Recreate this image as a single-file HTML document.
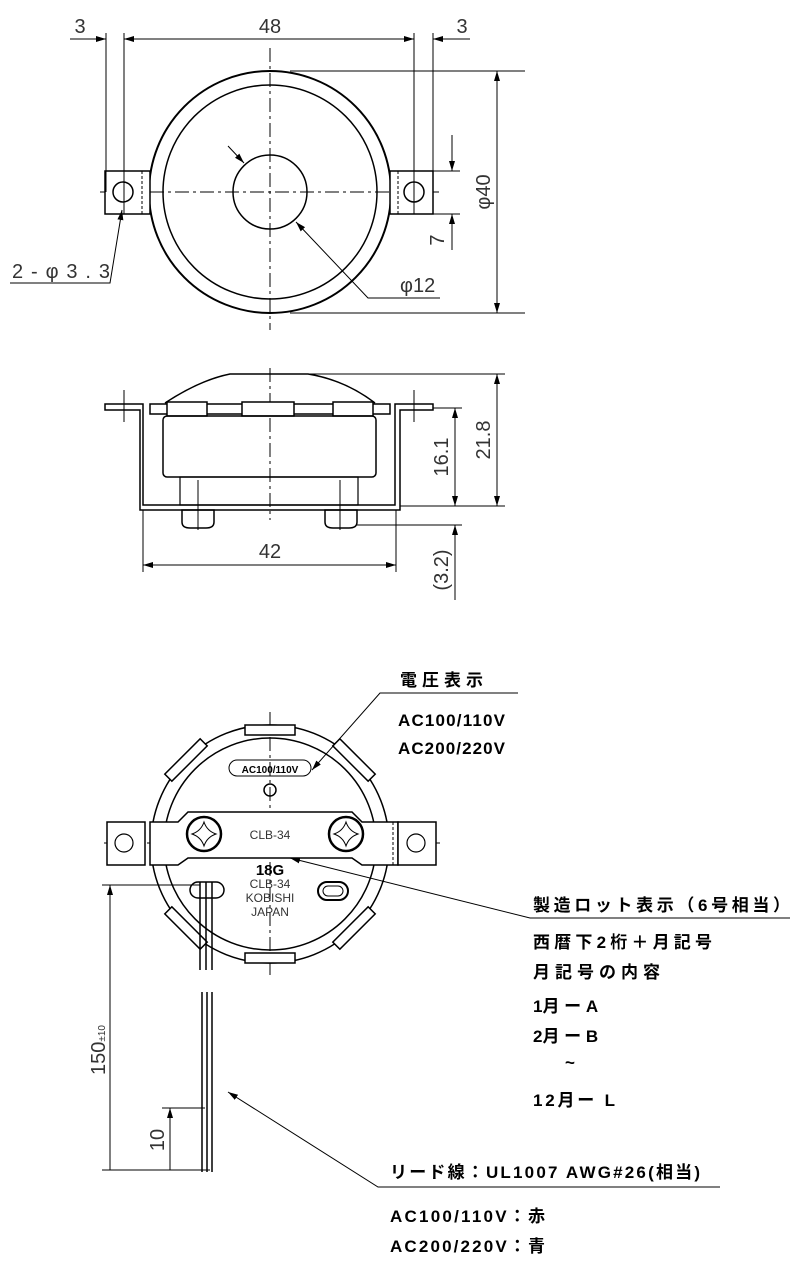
<!DOCTYPE html>
<html><head><meta charset="utf-8"><style>
html,body{margin:0;padding:0;background:#fff}
svg{display:block}
.t{font-family:"Liberation Sans",sans-serif;fill:#333}
.j{font-family:"Liberation Sans","Noto Sans CJK JP",sans-serif;font-weight:bold;fill:#000;font-size:17px}
</style></head><body>
<svg width="798" height="1276" viewBox="0 0 798 1276" xmlns="http://www.w3.org/2000/svg">
<defs>
<marker id="a" viewBox="0 0 10 6" refX="10" refY="3" markerWidth="10" markerHeight="6" orient="auto-start-reverse" markerUnits="userSpaceOnUse"><path d="M0,0L10,3L0,6z" fill="#000"/></marker>
</defs>
<g fill="none" stroke="#000" stroke-width="1">
<line x1="270" y1="48" x2="270" y2="330" stroke-dasharray="14,4,3,4"/>
<line x1="100" y1="192" x2="440" y2="192" stroke-dasharray="14,4,3,4"/>
<circle cx="270" cy="192" r="121" stroke-width="2"/>
<circle cx="270" cy="192" r="107" stroke-width="1.5"/>
<circle cx="270" cy="192" r="37" stroke-width="1.5"/>
<rect x="105" y="171" width="45" height="43" stroke-width="1.5" fill="#fff"/>
<line x1="142" y1="171" x2="142" y2="214" stroke-dasharray="3,2"/>
<circle cx="123" cy="192" r="10" stroke-width="1.5"/>
<rect x="390" y="171" width="43" height="43" stroke-width="1.5" fill="#fff"/>
<line x1="398" y1="171" x2="398" y2="214" stroke-dasharray="3,2"/>
<circle cx="414" cy="192" r="10" stroke-width="1.5"/>
<line x1="106" y1="33" x2="106" y2="192"/><line x1="124" y1="33" x2="124" y2="214"/>
<line x1="414" y1="33" x2="414" y2="214"/><line x1="433" y1="33" x2="433" y2="192"/>
<line x1="124" y1="39" x2="414" y2="39" marker-start="url(#a)" marker-end="url(#a)"/>
<line x1="70" y1="39" x2="106" y2="39" marker-end="url(#a)"/>
<line x1="470" y1="39" x2="433" y2="39" marker-end="url(#a)"/>
<line x1="290" y1="71" x2="525" y2="71"/><line x1="290" y1="313" x2="525" y2="313"/>
<line x1="497" y1="71" x2="497" y2="313" marker-start="url(#a)" marker-end="url(#a)"/>
<line x1="433" y1="171" x2="460" y2="171"/><line x1="433" y1="214" x2="460" y2="214"/>
<line x1="452" y1="135" x2="452" y2="171" marker-end="url(#a)"/>
<line x1="452" y1="250" x2="452" y2="214" marker-end="url(#a)"/>
<line x1="228" y1="146" x2="244" y2="163" marker-end="url(#a)"/>
<polyline points="440,298 368,298 296,222" marker-end="url(#a)"/>
<polyline points="10,283 110,283 122,210" marker-end="url(#a)"/>
<line x1="270" y1="368" x2="270" y2="520" stroke-dasharray="14,4,3,4"/>
<path d="M165,403 Q200,380 230,374 L308,374 Q345,380 375,403" stroke-width="1.5"/>
<path d="M105,404 H143 V505 H395 V404 H433 V410 H400 V510 H140 V410 H105 Z" stroke-width="1.5"/>
<rect x="150" y="404" width="240" height="10" stroke-width="1.5"/>
<rect x="167" y="402" width="40" height="14" fill="#fff" stroke-width="1.5"/>
<rect x="242" y="402" width="52" height="14" fill="#fff" stroke-width="1.5"/>
<rect x="333" y="402" width="40" height="14" fill="#fff" stroke-width="1.5"/>
<rect x="163" y="416" width="213" height="61" rx="4" stroke-width="1.5"/>
<rect x="180" y="477" width="178" height="28" stroke-width="1.2"/>
<path d="M182,510 h32 v12 q0,6 -8,6 h-16 q-8,0 -8,-6z" stroke-width="1.5"/>
<path d="M325,510 h32 v12 q0,6 -8,6 h-16 q-8,0 -8,-6z" stroke-width="1.5"/>
<line x1="198" y1="480" x2="198" y2="530"/><line x1="340" y1="480" x2="340" y2="530"/>
<line x1="124" y1="390" x2="124" y2="422"/><line x1="414" y1="390" x2="414" y2="422"/>
<line x1="308" y1="374" x2="505" y2="374"/><line x1="400" y1="506" x2="505" y2="506"/>
<line x1="433" y1="408" x2="462" y2="408"/><line x1="357" y1="525" x2="462" y2="525"/>
<line x1="497" y1="374" x2="497" y2="506" marker-start="url(#a)" marker-end="url(#a)"/>
<line x1="455" y1="408" x2="455" y2="506" marker-start="url(#a)" marker-end="url(#a)"/>
<line x1="455" y1="600" x2="455" y2="525" marker-end="url(#a)"/>
<line x1="143" y1="510" x2="143" y2="572"/><line x1="396" y1="510" x2="396" y2="572"/>
<line x1="143" y1="565" x2="396" y2="565" marker-start="url(#a)" marker-end="url(#a)"/>
<line x1="270" y1="712" x2="270" y2="975" stroke-dasharray="14,4,3,4"/>
<line x1="104" y1="843" x2="440" y2="843" stroke-dasharray="14,4,3,4"/>
<circle cx="270" cy="844" r="119" stroke-width="1.5"/>
<circle cx="270" cy="844" r="106" stroke-width="1.5"/>
<g fill="#fff" stroke-width="1.5">
<rect x="245" y="725" width="50" height="10"/><rect x="245" y="953" width="50" height="10"/>
<rect x="-25" y="-5" width="50" height="10" transform="translate(186,760) rotate(-45)"/>
<rect x="-25" y="-5" width="50" height="10" transform="translate(354,760) rotate(45)"/>
<rect x="-25" y="-5" width="50" height="10" transform="translate(186,928) rotate(45)"/>
<rect x="-25" y="-5" width="50" height="10" transform="translate(354,928) rotate(-45)"/>
</g>
<path d="M150,822 H178 L188,812 H352 L362,822 H398 V865 H362 L352,858 H188 L178,865 H150Z" fill="#fff" stroke-width="1.5"/>
<line x1="150" y1="822" x2="150" y2="865" stroke-dasharray="3,2"/><line x1="393" y1="822" x2="393" y2="865" stroke-dasharray="3,2"/>
<rect x="107" y="822" width="38" height="43" fill="#fff" stroke-width="1.5"/>
<rect x="398" y="822" width="38" height="43" fill="#fff" stroke-width="1.5"/>
<circle cx="124" cy="843" r="9" stroke-width="1.2"/><circle cx="416" cy="843" r="9" stroke-width="1.2"/>
<circle cx="204" cy="834" r="17" stroke-width="2.5"/><circle cx="346" cy="834" r="17" stroke-width="2.5"/>
<path d="M204,822 q3,9 12,12 q-9,3 -12,12 q-3,-9 -12,-12 q9,-3 12,-12z"/>
<path d="M346,822 q3,9 12,12 q-9,3 -12,12 q-3,-9 -12,-12 q9,-3 12,-12z"/>
<rect x="229" y="760" width="82" height="16" rx="8"/>
<circle cx="270" cy="790" r="6" stroke-width="1.5"/>
<rect x="318" y="882" width="30" height="18" rx="9" stroke-width="2"/><rect x="323" y="886" width="20" height="10" rx="5"/>
<rect x="190" y="882" width="34" height="16" rx="8" stroke-width="1.5"/>
<path d="M200,882 V970 M206,882 V970 M212,882 V970" stroke-width="1.5"/>
<path d="M202,992 V1172 M207,992 V1172 M212,992 V1172" stroke-width="1.5"/>
<line x1="102" y1="885" x2="200" y2="885"/><line x1="102" y1="1170" x2="210" y2="1170"/>
<line x1="110" y1="1170" x2="110" y2="885" marker-end="url(#a)"/>
<line x1="162" y1="1108" x2="205" y2="1108"/>
<line x1="170" y1="1170" x2="170" y2="1108" marker-end="url(#a)"/>
<polyline points="518,693 380,693 312,770" marker-end="url(#a)"/>
<polyline points="790,918 530,918 290,858" marker-end="url(#a)"/>
<polyline points="720,1187 378,1187 228,1092" marker-end="url(#a)"/>
</g>
<g class="t" font-size="20">
<text x="270" y="33" text-anchor="middle">48</text>
<text x="80" y="33" text-anchor="middle">3</text>
<text x="462" y="33" text-anchor="middle">3</text>
<text x="12" y="278" textLength="98">2-φ3.3</text>
<text x="400" y="292">φ12</text>
<text transform="translate(490,192) rotate(-90)" text-anchor="middle">φ40</text>
<text transform="translate(444,240) rotate(-90)" text-anchor="middle">7</text>
<text transform="translate(490,440) rotate(-90)" text-anchor="middle">21.8</text>
<text transform="translate(448,457) rotate(-90)" text-anchor="middle">16.1</text>
<text transform="translate(448,570) rotate(-90)" text-anchor="middle">(3.2)</text>
<text x="270" y="558" text-anchor="middle">42</text>
<text transform="translate(105,1050) rotate(-90)" text-anchor="middle">150<tspan font-size="10">±10</tspan></text>
<text transform="translate(164,1140) rotate(-90)" text-anchor="middle">10</text>
</g>
<g class="t" font-size="12" text-anchor="middle">
<text x="270" y="839">CLB-34</text>
<text x="270" y="888">CLB-34</text>
<text x="270" y="902">KOBISHI</text>
<text x="270" y="916">JAPAN</text>
</g>
<text x="270" y="773" text-anchor="middle" font-family="Liberation Sans" font-weight="bold" font-size="10">AC100/110V</text>
<text x="270" y="875" text-anchor="middle" font-family="Liberation Sans" font-weight="bold" font-size="15">18G</text>
<g class="j">
<text x="400" y="686" textLength="83">電圧表示</text>
<text x="398" y="726" textLength="107">AC100/110V</text>
<text x="398" y="754" textLength="107">AC200/220V</text>
<text x="533" y="911" textLength="257">製造ロット表示（6号相当）</text>
<text x="533" y="948" textLength="179">西暦下2桁＋月記号</text>
<text x="533" y="978" textLength="127">月記号の内容</text>
<text x="533" y="1012">1月 ー A</text>
<text x="533" y="1042">2月 ー B</text>
<text x="565" y="1068">~</text>
<text x="533" y="1106" textLength="82">12月ー L</text>
<text x="390" y="1178" textLength="310">リード線：UL1007 AWG#26(相当)</text>
<text x="390" y="1222" textLength="155">AC100/110V：赤</text>
<text x="390" y="1252" textLength="155">AC200/220V：青</text>
</g>
</svg>
</body></html>
